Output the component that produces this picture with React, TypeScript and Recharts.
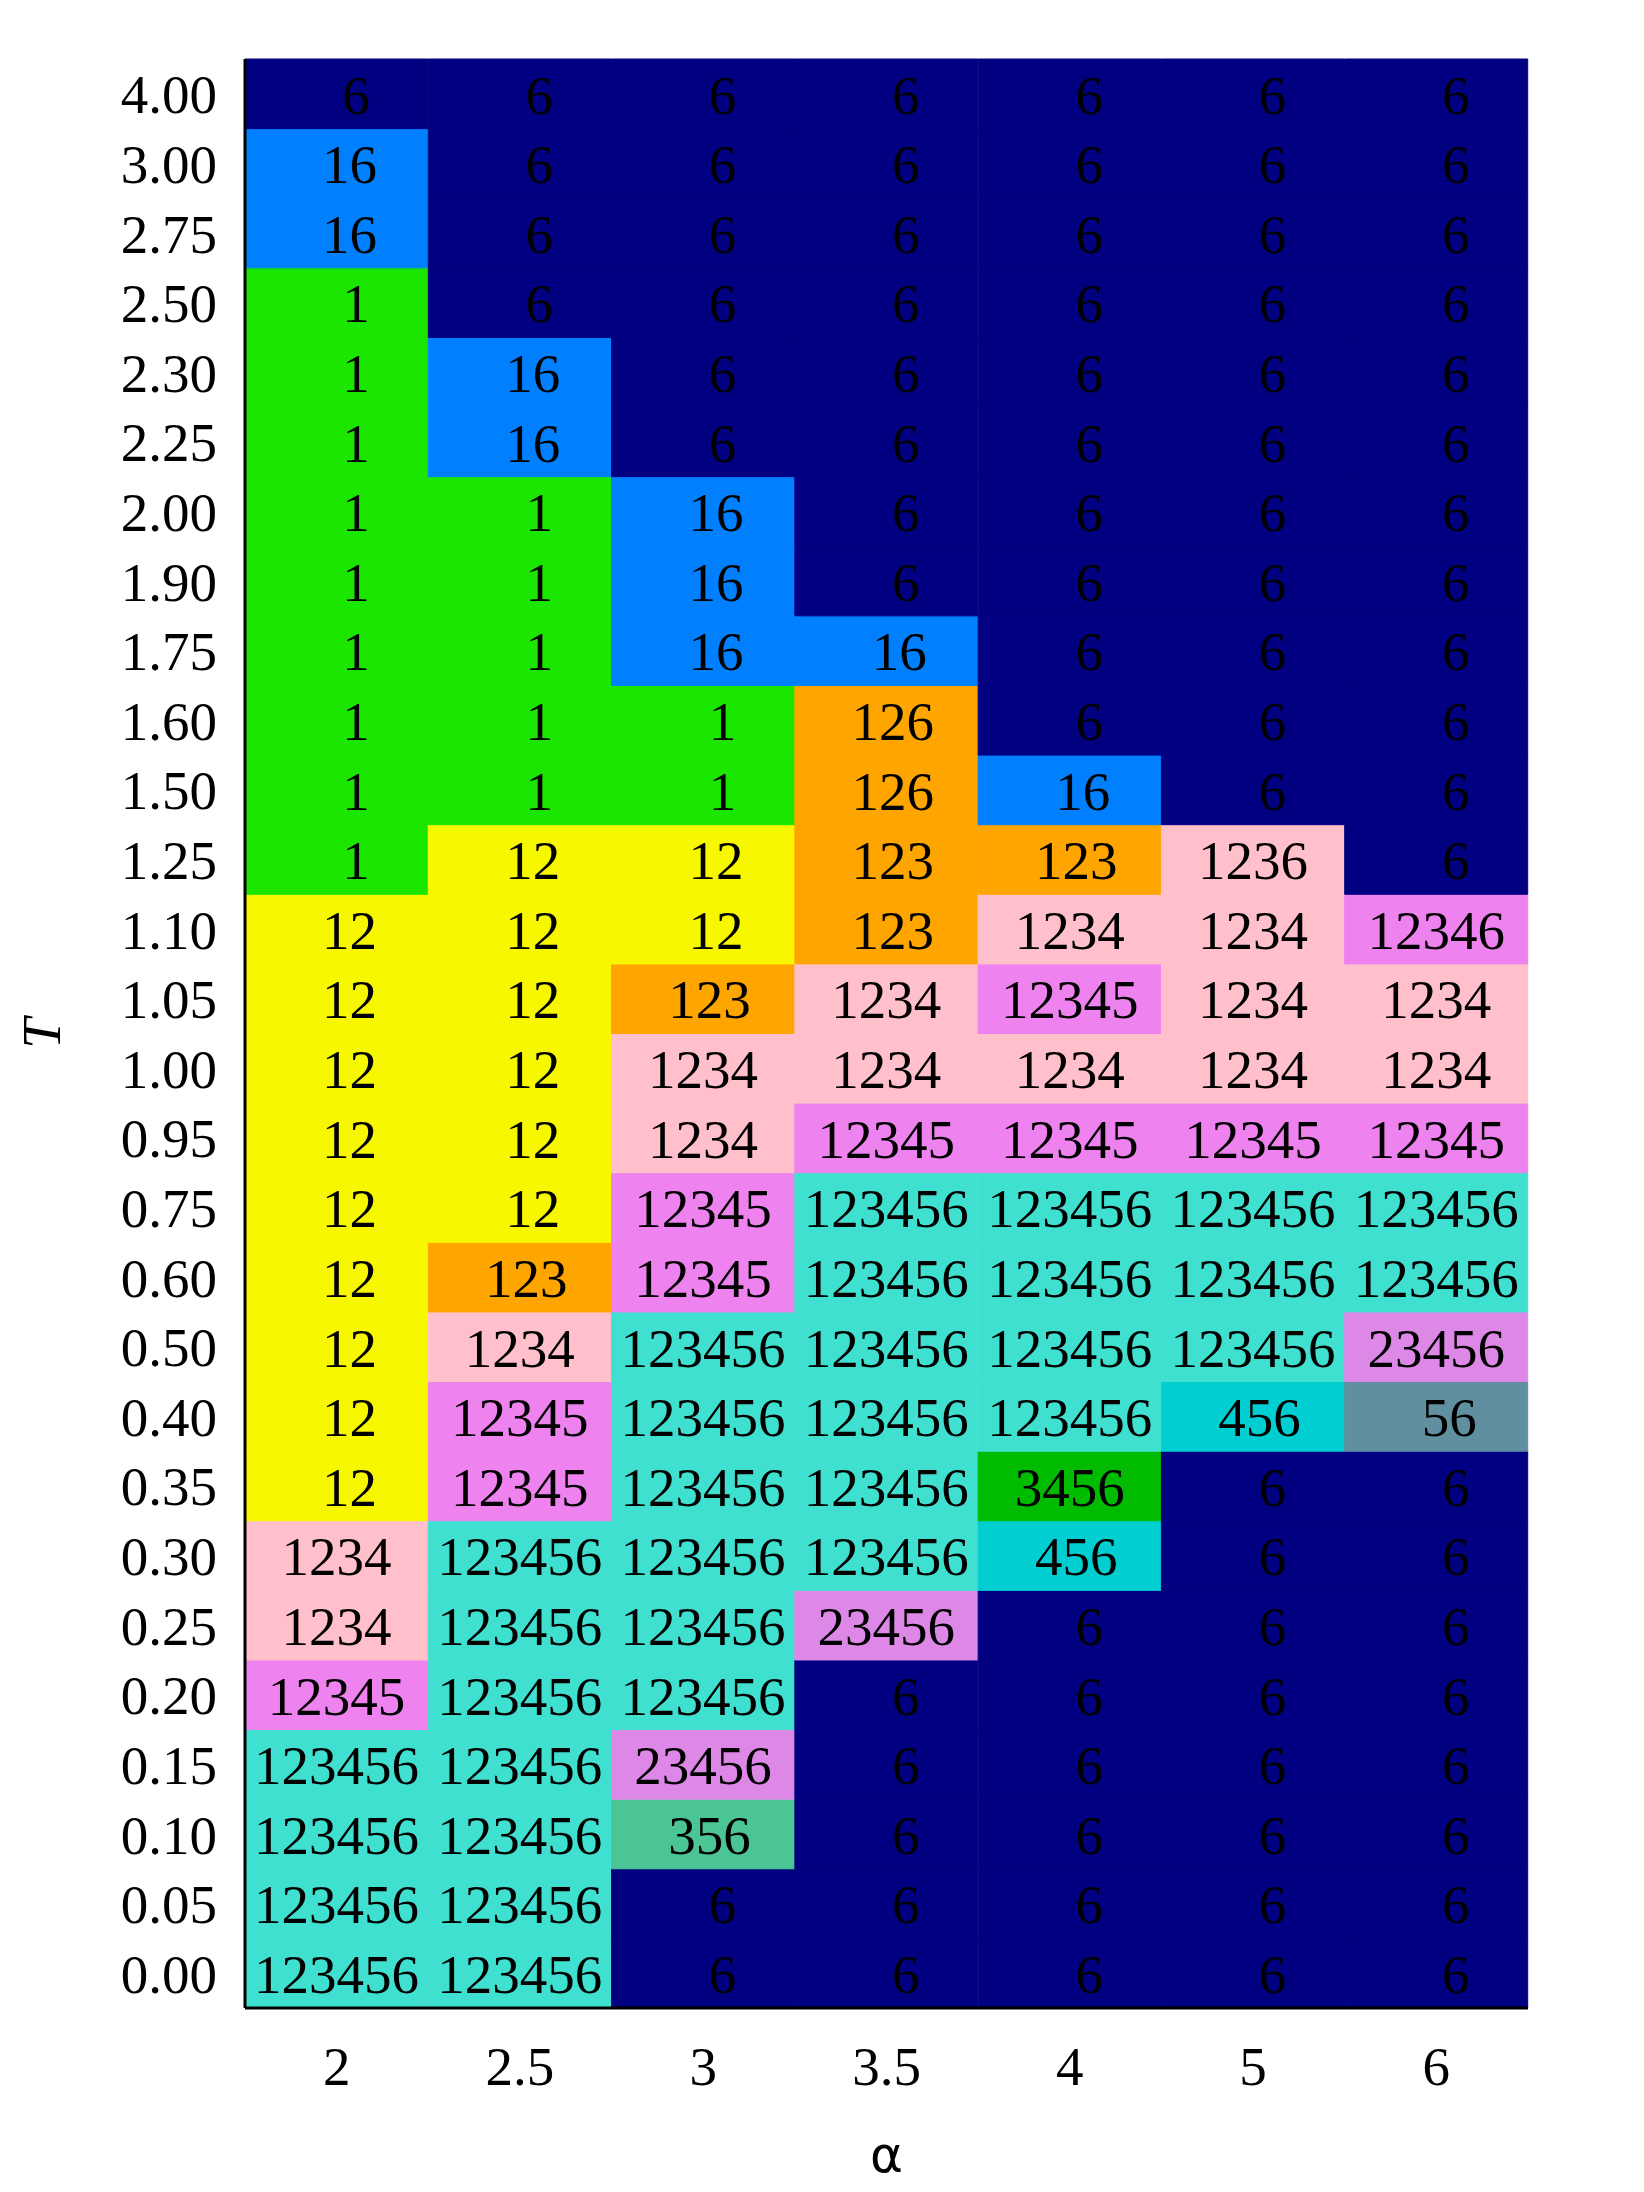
import React from 'react';
import { Bar, BarChart, Cell, LabelList, XAxis, YAxis } from 'recharts';

// α columns (x categories)
const alphas = ['2', '2.5', '3', '3.5', '4', '5', '6'];

// T rows, bottom to top
const temps = [
  '0.00', '0.05', '0.10', '0.15', '0.20', '0.25', '0.30', '0.35', '0.40', '0.50',
  '0.60', '0.75', '0.95', '1.00', '1.05', '1.10', '1.25', '1.50', '1.60', '1.75',
  '1.90', '2.00', '2.25', '2.30', '2.50', '2.75', '3.00', '4.00',
];

// phase label per (T row, α column), rows listed bottom to top like temps
const phases: string[][] = [
  ['123456', '123456', '6', '6', '6', '6', '6'],
  ['123456', '123456', '6', '6', '6', '6', '6'],
  ['123456', '123456', '356', '6', '6', '6', '6'],
  ['123456', '123456', '23456', '6', '6', '6', '6'],
  ['12345', '123456', '123456', '6', '6', '6', '6'],
  ['1234', '123456', '123456', '23456', '6', '6', '6'],
  ['1234', '123456', '123456', '123456', '456', '6', '6'],
  ['12', '12345', '123456', '123456', '3456', '6', '6'],
  ['12', '12345', '123456', '123456', '123456', '456', '56'],
  ['12', '1234', '123456', '123456', '123456', '123456', '23456'],
  ['12', '123', '12345', '123456', '123456', '123456', '123456'],
  ['12', '12', '12345', '123456', '123456', '123456', '123456'],
  ['12', '12', '1234', '12345', '12345', '12345', '12345'],
  ['12', '12', '1234', '1234', '1234', '1234', '1234'],
  ['12', '12', '123', '1234', '12345', '1234', '1234'],
  ['12', '12', '12', '123', '1234', '1234', '12346'],
  ['1', '12', '12', '123', '123', '1236', '6'],
  ['1', '1', '1', '126', '16', '6', '6'],
  ['1', '1', '1', '126', '6', '6', '6'],
  ['1', '1', '16', '16', '6', '6', '6'],
  ['1', '1', '16', '6', '6', '6', '6'],
  ['1', '1', '16', '6', '6', '6', '6'],
  ['1', '16', '6', '6', '6', '6', '6'],
  ['1', '16', '6', '6', '6', '6', '6'],
  ['1', '6', '6', '6', '6', '6', '6'],
  ['16', '6', '6', '6', '6', '6', '6'],
  ['16', '6', '6', '6', '6', '6', '6'],
  ['6', '6', '6', '6', '6', '6', '6'],
];

const phaseColors: Record<string, string> = {
  '6': '#000080',
  '16': '#0080FF',
  '1': '#1AE600',
  '12': '#F7F700',
  '123': '#FFA500',
  '126': '#FFA500',
  '1234': '#FFC0CB',
  '1236': '#FFC0CB',
  '12345': '#EE82EE',
  '12346': '#EE82EE',
  '123456': '#40E0D0',
  '23456': '#DD88E6',
  '456': '#00CED1',
  '56': '#6090A0',
  '3456': '#00BB00',
  '356': '#4CC594',
};

const serif = '"Liberation Serif", "DejaVu Serif", serif';

// one row per α column, each T row stacked as a unit-height segment
const chartData = alphas.map((a, j) => {
  const row: Record<string, string | number> = { alpha: a };
  temps.forEach((_, i) => {
    row[`r${i}`] = 1;
    row[`t${i}`] = phases[i][j];
  });
  return row;
});

const yTicks = temps.map((_, i) => i + 0.5);

function CellText(props: any) {
  const { x, y, width, height, value } = props;
  const s = String(value);
  // short labels sit a little right of centre, as in the original
  const dx = Math.max(0, 4 - s.length) * 6.5;
  return (
    <text
      x={x + width / 2 + dx}
      y={y + height / 2}
      dy="0.36em"
      textAnchor="middle"
      fontFamily={serif}
      fontSize={55}
      fill="#000"
    >
      {s}
    </text>
  );
}

export default function App() {
  return (
    <div style={{ position: 'absolute', left: 0, top: 0, background: '#fff' }}>
      <BarChart
        width={1644}
        height={2192}
        data={chartData}
        margin={{ top: 59, right: 116, bottom: 0, left: 0 }}
        barCategoryGap={0}
        barGap={0}
      >
        <XAxis
          dataKey="alpha"
          type="category"
          height={184}
          tickLine={false}
          tickSize={0}
          tickMargin={38}
          axisLine={{ stroke: '#000', strokeWidth: 3 }}
          tick={{ fontFamily: serif, fontSize: 55, fill: '#000' }}
          label={{
            value: 'α',
            position: 'insideBottom',
            offset: 20,
            style: { fontFamily: '"DejaVu Sans", sans-serif', fontSize: 50, fill: '#000' },
          }}
        />
        <XAxis xAxisId="top" dataKey="alpha" orientation="top" height={0} tick={false} tickLine={false} axisLine={{ stroke: '#000', strokeWidth: 3 }} />
        <YAxis
          type="number"
          domain={[0, temps.length]}
          ticks={yTicks}
          interval={0}
          width={245}
          tickLine={false}
          tickSize={0}
          tickMargin={28}
          axisLine={{ stroke: '#000', strokeWidth: 3 }}
          tickFormatter={(v: number) => temps[Math.floor(v)]}
          tick={{ fontFamily: serif, fontSize: 55, fill: '#000' }}
          label={{
            value: 'T',
            angle: -90,
            position: 'insideLeft',
            offset: 40,
            style: { fontFamily: serif, fontStyle: 'italic', fontSize: 55, fill: '#000', textAnchor: 'middle' },
          }}
        />
        <YAxis yAxisId="right" orientation="right" type="number" domain={[0, temps.length]} width={0} tick={false} tickLine={false} axisLine={{ stroke: '#000', strokeWidth: 3 }} />
        {temps.map((_, i) => (
          <Bar key={i} dataKey={`r${i}`} stackId="grid" isAnimationActive={false}>
            {alphas.map((_, j) => {
              const c = phaseColors[phases[i][j]];
              return <Cell key={j} fill={c} stroke={c} strokeWidth={1} />;
            })}
            <LabelList dataKey={`t${i}`} content={CellText} />
          </Bar>
        ))}
      </BarChart>
    </div>
  );
}
